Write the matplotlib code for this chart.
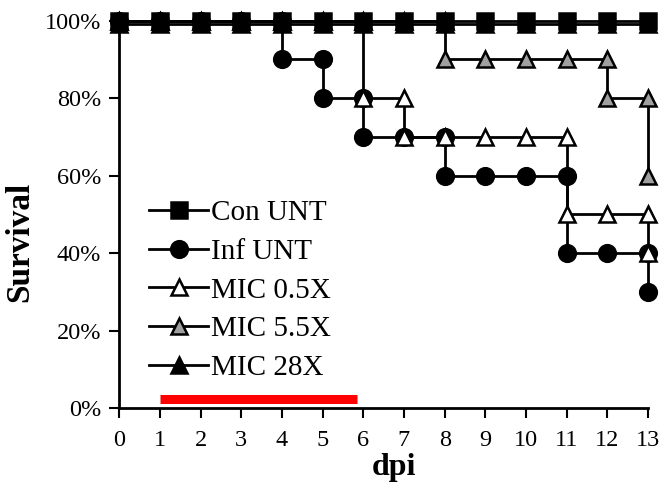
import numpy as np
import matplotlib.pyplot as plt
from matplotlib.ticker import PercentFormatter

plt.rcParams['font.family'] = ['Liberation Serif', 'DejaVu Serif']

# survival (%) recorded each day post infection
days = list(range(14))
con_unt = [100] * 14
inf_unt = [100, 100, 100, 100, 90, 80, 70, 70, 60, 60, 60, 40, 40, 30]
mic_05x = [100, 100, 100, 100, 100, 100, 80, 70, 70, 70, 70, 50, 50, 40]
mic_55x = [100, 100, 100, 100, 100, 100, 100, 100, 90, 90, 90, 90, 80, 60]
mic_28x = [99] * 14  # drawn just under 100 so it stays visible

# treatment window (dpi)
treat_start, treat_end = 1, 5.85
treat_level = 2.2


def step_points(x, y):
    """Excel-style survival steps: a point before and after every drop."""
    xs, ys = [x[0]], [y[0]]
    for i in range(1, len(x)):
        if y[i] != y[i - 1]:
            xs.append(x[i])
            ys.append(y[i - 1])
        xs.append(x[i])
        ys.append(y[i])
    return xs, ys


fig = plt.figure(figsize=(6.62, 4.91), dpi=100)
ax = fig.add_axes([0.18, 0.169, 0.799, 0.789])

series = [
    ('Con UNT', con_unt, 's', 'black', 11),
    ('Inf UNT', inf_unt, 'o', 'black', 12),
    ('MIC 0.5X', mic_05x, '^', 'white', 11),
    ('MIC 5.5X', mic_55x, '^', '#a0a0a0', 11),
    ('MIC 28X', mic_28x, '^', 'black', 11),
]

for name, surv, mk, fc, ms in series:
    xs, ys = step_points(days, surv)
    ax.plot(xs, ys, color='black', lw=2, marker=mk, markersize=ms,
            markerfacecolor=fc, markeredgecolor='black', markeredgewidth=1.8,
            label=name, clip_on=False)

ax.plot([treat_start, treat_end], [treat_level, treat_level],
        color='#ff0000', lw=6.5, solid_capstyle='butt')

ax.set_xlim(0, 13)
ax.set_ylim(0, 100)
ax.set_xticks(days)
ax.set_yticks(np.arange(0, 101, 20))
ax.yaxis.set_major_formatter(PercentFormatter(decimals=0))
ax.tick_params(direction='out', length=7, width=1.5, labelsize=17.5)
ax.tick_params(axis='x', pad=9)
ax.tick_params(axis='y', pad=6)

for side in ['top', 'right']:
    ax.spines[side].set_visible(False)
for side in ['left', 'bottom']:
    ax.spines[side].set_linewidth(2)

ax.set_xlabel('dpi', fontsize=23, fontweight='bold')
ax.set_ylabel('Survival', fontsize=24, fontweight='bold')
ax.xaxis.set_label_coords(0.52, -0.115)
ax.yaxis.set_label_coords(-0.158, 0.43)

ax.legend(loc='lower left', bbox_to_anchor=(0.035, 0.04), frameon=False,
          fontsize=21, handlelength=2.0, handletextpad=0.1,
          labelspacing=0.42, borderaxespad=0)

fig.savefig('out.png', dpi=100)
